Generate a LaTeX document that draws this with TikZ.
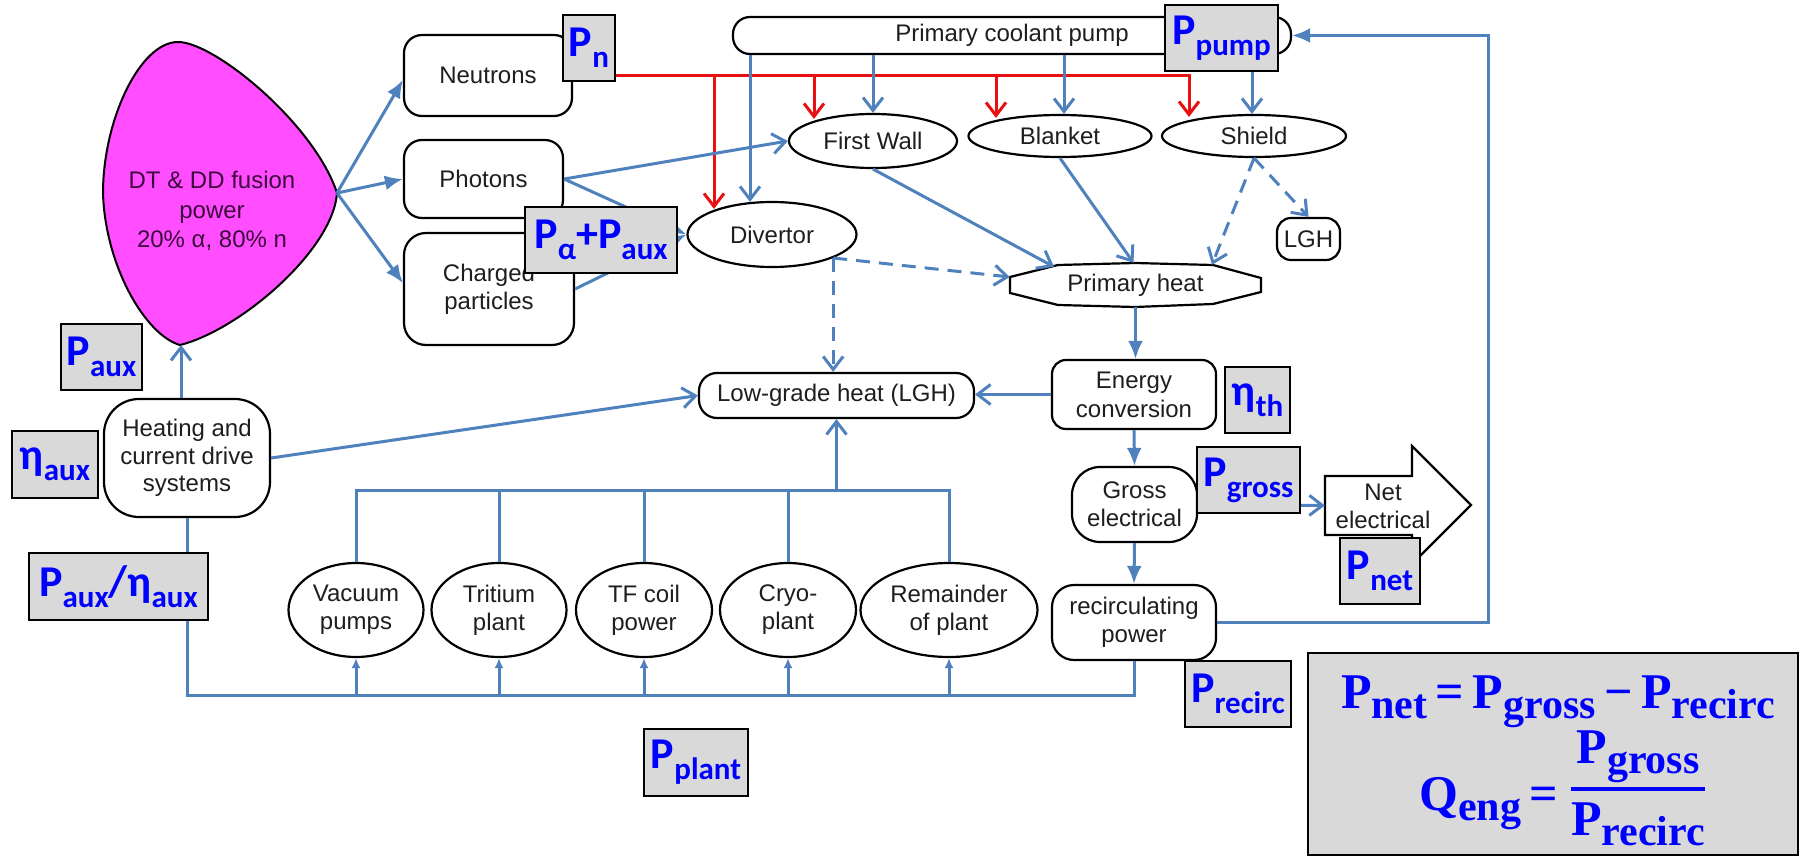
\documentclass[tikz,border=0pt]{standalone}
\usepackage{fontspec}
\newfontfamily\arialf{Liberation Sans}
\newfontfamily\calf{Carlito}
\newfontfamily\serff{Liberation Serif}
\usetikzlibrary{arrows.meta,shapes.geometric}
\definecolor{lnblue}{RGB}{79,129,189}
\definecolor{lnred}{RGB}{232,16,16}
\definecolor{plpink}{RGB}{255,77,255}
\definecolor{lblgray}{RGB}{217,217,217}
\definecolor{lbltxt}{RGB}{0,0,255}
\definecolor{txt}{RGB}{30,30,30}
\newcommand\mtxt{\arialf\fontsize{24}{28}\selectfont}
\newcommand\lb[2]{{\fontsize{44}{48}\selectfont #1}\raisebox{-11pt}{\fontsize{31}{34}\selectfont #2}}
\newcommand\fsub[2]{{\fontsize{50}{54}\selectfont #1}\raisebox{-10pt}{\fontsize{42}{46}\selectfont #2}}
\newcommand\fop[1]{{\fontsize{50}{54}\selectfont\,#1\,}}
\begin{document}
\begin{tikzpicture}[x=1pt,y=-1pt,
  rbox/.style={draw=black, line width=2.2pt, fill=white, rounded corners=#1, align=center, inner sep=0pt, font=\mtxt, text=txt},
  rbox/.default=18pt,
  ell/.style={ellipse, draw=black, line width=2.2pt, fill=white, align=center, inner sep=0pt, font=\mtxt, text=txt},
  plain/.style={align=center, inner sep=0pt, font=\mtxt, text=txt},
  lbl/.style={draw=black, line width=2.2pt, fill=lblgray, text=lbltxt, font=\calf\bfseries, inner sep=0pt},
  frm/.style={text=lbltxt, inner sep=0pt, font=\serff\bfseries},
  bl/.style={draw=lnblue, line width=3pt},
  rd/.style={draw=lnred, line width=3pt},
  oa/.style={-{Straight Barb[length=13pt,width=20pt]}},
  fa/.style={-{Latex[length=18pt,width=15pt]}},
  sa/.style={-{Latex[length=10pt,width=9pt]}},
  dsh/.style={dash pattern=on 14pt off 9pt}
]
\useasboundingbox (0,0) rectangle (1800,856);

% plasma
\draw[line width=2pt, fill=plpink] (178,42) .. controls (215,42) and (315,125) .. (337,193)
  .. controls (333,250) and (240,330) .. (180,345)
  .. controls (145,335) and (105,265) .. (103,193)
  .. controls (103,120) and (140,42) .. (178,42) -- cycle;
\node[plain, font=\arialf\fontsize{24}{29.5}\selectfont, text={rgb,255:red,60;green,10;blue,60}] (plasma) at (212,211) {DT \& DD fusion\\power\\20\% α, 80\% n};
\coordinate (plE) at (337,193);
\coordinate (plS) at (181,345);

% primary heat and net electrical shapes
\draw[line width=2.2pt, fill=white] (1010,277) -- (1058,265) -- (1135,263) -- (1213,265) -- (1261,278) -- (1261,292) -- (1213,304) -- (1135,307) -- (1058,305) -- (1010,293) -- cycle;
\draw[line width=2.2pt, fill=white] (1325,476) -- (1412,476) -- (1412,446) -- (1471,505) -- (1412,564) -- (1412,535) -- (1325,535) -- cycle;

% nodes
\node[rbox, minimum width=168pt, minimum height=81pt] (neu) at (488,75.5) {Neutrons};
\node[rbox, minimum width=159pt, minimum height=78pt] (pho) at (483.5,179) {Photons};
\node[rbox=22pt, minimum width=170pt, minimum height=112pt] (chg) at (489,289) {Charged\\particles};
\node[rbox=17pt, minimum width=558pt, minimum height=37pt] (pump) at (1012,35.5) {Primary coolant pump};
\node[ell, minimum width=168pt, minimum height=54pt] (fw) at (873,141) {First Wall};
\node[ell, minimum width=183pt, minimum height=42pt] (blk) at (1060,136) {Blanket};
\node[ell, minimum width=184pt, minimum height=42pt] (shd) at (1254,136) {Shield};
\node[ell, minimum width=169pt, minimum height=65pt] (div) at (772,234.5) {Divertor};
\node[rbox=14pt, minimum width=63pt, minimum height=42pt] (lghs) at (1308.5,239) {LGH};
\node[plain, minimum width=251pt, minimum height=44pt] (ph) at (1135.5,285) {Primary heat};
\node[rbox=14pt, font=\arialf\fontsize{24}{29}\selectfont, minimum width=164pt, minimum height=69pt] (ec) at (1134,394.5) {Energy\\conversion};
\node[rbox=28pt, minimum width=125pt, minimum height=75pt] (gross) at (1134.5,504.5) {Gross\\electrical};
\node[rbox=22pt, minimum width=164pt, minimum height=75pt] (rec) at (1134,622.5) {recirculating\\power};
\node[plain, minimum width=87pt, minimum height=59pt] (net) at (1368.5,505.5) {};
\node[plain] (nettxt) at (1383,506) {Net\\electrical};
\node[rbox, minimum width=275pt, minimum height=45pt] (lgh) at (836.5,395.5) {Low-grade heat (LGH)};
\node[rbox=35pt, font=\arialf\fontsize{24}{27.5}\selectfont, minimum width=166pt, minimum height=118pt] (heat) at (187,458) {Heating and\\current drive\\systems};
\node[ell, minimum width=135pt, minimum height=94pt] (vac) at (356,610) {Vacuum\\pumps};
\node[ell, minimum width=135pt, minimum height=94pt] (trit) at (499,610) {Tritium\\plant};
\node[ell, minimum width=136pt, minimum height=94pt] (tf) at (644,610) {TF coil\\power};
\node[ell, minimum width=136pt, minimum height=94pt] (cryo) at (788,610) {Cryo-\\plant};
\node[ell, minimum width=177pt, minimum height=94pt] (rem) at (949,610) {Remainder\\of plant};

% plasma outputs
\draw[bl,fa] (plE) -- ([yshift=-4.5pt]neu.west);
\draw[bl,fa] (plE) -- (pho.west);
\draw[bl,fa] (plE) -- ([yshift=6pt]chg.west);
\draw[bl,oa] ([xshift=-6pt]heat.north) -- (plS);

% neutron (red) distribution
\draw[rd,oa] (neu.east) -| ([xshift=-65pt,yshift=-3pt]shd.north);
\draw[rd,oa] ([xshift=-58pt]div.north |- neu.east) -- ([xshift=-58pt,yshift=-8pt]div.north);
\draw[rd,oa] ([xshift=-59pt]fw.north |- neu.east) -- ([xshift=-59pt,yshift=-6pt]fw.north);
\draw[rd,oa] ([xshift=-64pt]blk.north |- neu.east) -- ([xshift=-64pt,yshift=-4pt]blk.north);

% coolant pump drops
\draw[bl,oa] ([xshift=-22pt]div.north |- pump.south) -- ([xshift=-22pt,yshift=-1pt]div.north);
\draw[bl,oa] (fw.north |- pump.south) -- (fw.north);
\draw[bl,oa] ([xshift=4pt]blk.north |- pump.south) -- ([xshift=4pt]blk.north);
\draw[bl,oa] ([xshift=-2pt]shd.north |- pump.south) -- ([xshift=-2pt]shd.north);

% photons / charged
\draw[bl,oa] (pho.east) -- (fw.west);
\draw[bl,fa] (pho.east) -- (div.west);
\draw[bl,fa] (chg.east) -- (div.west);

% to primary heat
\draw[bl,oa] (fw.south) -- ([xshift=-81.5pt,yshift=-4pt]ph.north);
\draw[bl,oa] (blk.south) -- ([xshift=-2pt]ph.north);
\draw[bl,oa,dsh] (shd.south) -- ([xshift=76.5pt,yshift=-2pt]ph.north);
\draw[bl,oa,dsh] (shd.south) -- (lghs.north);
\draw[bl,oa,dsh] (div.-21) -- ([yshift=8pt]ph.west);
\draw[bl,oa,dsh] (div.-21) -- (div.-21 |- lgh.north);

% conversion chain
\draw[bl,fa] (ph.south) -- (ph.south |- ec.north);
\draw[bl,oa] (ec.west) -- (ec.west -| lgh.east);
\draw[bl,fa] (ec.south) -- (gross.north);
\draw[bl,fa] (gross.south) -- (rec.north);
\draw[bl,oa] (gross.east) -- (net.west);
\draw[bl,fa] (rec.east) -- ++(271,0) |- (pump.east);

% heating to LGH
\draw[bl,oa] (heat.east) -- (lgh.west);

% plant tree to LGH
\draw[bl] (vac.north) -- ++(0,-71) -| (rem.north);
\draw[bl] (trit.north) -- ++(0,-71);
\draw[bl] (tf.north) -- ++(0,-71);
\draw[bl] (cryo.north) -- ++(0,-71);
\draw[bl,oa] ([yshift=71pt]cryo.north -| lgh.south) -- (lgh.south);

% bottom bus
\draw[bl] (heat.south) -- ++(0,177) -| (rec.south);
\draw[bl,sa] ([yshift=-37pt]vac.south) -- (vac.south);
\draw[bl,sa] ([yshift=-37pt]trit.south) -- (trit.south);
\draw[bl,sa] ([yshift=-37pt]tf.south) -- (tf.south);
\draw[bl,sa] ([yshift=-37pt]cryo.south) -- (cryo.south);
\draw[bl,sa] ([yshift=-37pt]rem.south) -- (rem.south);

% labels
\node[lbl, minimum width=52pt, minimum height=66pt] (Ln) at (589,48) {\lb{P}{n}};
\node[lbl, minimum width=113pt, minimum height=66pt] (Lpump) at (1221.5,38) {\lb{P}{pump}};
\node[lbl, minimum width=152pt, minimum height=66pt] (Lalpha) at (601,240) {\lb{P}{α}{\fontsize{44}{48}\selectfont +}\lb{P}{aux}};
\node[lbl, minimum width=81pt, minimum height=66pt] (Laux) at (101.5,357) {\lb{P}{aux}};
\node[lbl, minimum width=86pt, minimum height=67pt] (Letaaux) at (55,464.5) {\lb{η}{aux}};
\node[lbl, minimum width=179pt, minimum height=67pt] (Lratio) at (118.5,586.5) {\lb{P}{aux}{\fontsize{44}{48}\selectfont /}\lb{η}{aux}};
\node[lbl, minimum width=104pt, minimum height=67pt] (Lplant) at (696,762.5) {\lb{P}{plant}};
\node[lbl, minimum width=65pt, minimum height=66pt] (Lth) at (1257.5,400) {\lb{η}{th}};
\node[lbl, minimum width=103pt, minimum height=66pt] (Lgross) at (1248.5,480) {\lb{P}{gross}};
\node[lbl, minimum width=80pt, minimum height=66pt] (Lnet) at (1380,571) {\lb{P}{net}};
\node[lbl, minimum width=106pt, minimum height=66pt] (Lrecirc) at (1238,694) {\lb{P}{recirc}};

% formula box
\node[draw=black, line width=2.2pt, fill=lblgray, minimum width=490pt, minimum height=202pt, inner sep=0pt] (fbox) at (1553,754) {};
\node[frm, anchor=base] (eq1) at (1558,708) {\fsub{P}{net}\fop{=}\fsub{P}{gross}\fop{−}\fsub{P}{recirc}};
\node[frm, anchor=base west] (qeng) at (1419,810) {\fsub{Q}{eng}\fop{=}};
\node[frm, anchor=base] (frn) at (1638,763) {\fsub{P}{gross}};
\node[frm, anchor=base] (frd) at (1638,835) {\fsub{P}{recirc}};
\draw[draw=lbltxt, line width=3.5pt] ([yshift=13pt]frd.north west) -- ([yshift=13pt]frd.north east);
\end{tikzpicture}
\end{document}
